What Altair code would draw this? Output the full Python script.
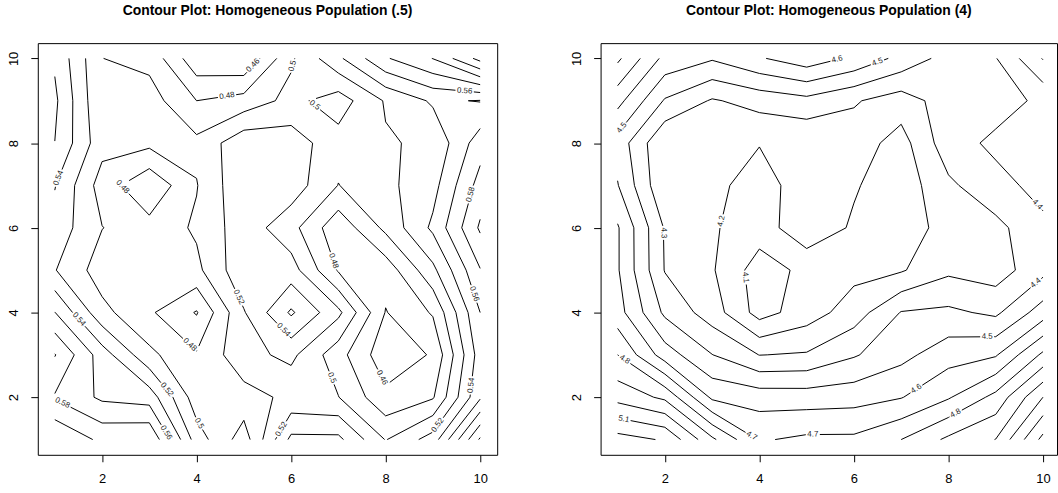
import math
import pandas as pd
import altair as alt

GRID_X = [1, 2, 3, 4, 5, 6, 7, 8, 9, 10]
GRID_Y = [1, 2, 3, 4, 5, 6, 7, 8, 9, 10]

# Population (.5): one list per row, from y = 10 (top) down to y = 1
HALF_ROWS = [
    [0.557, 0.5002, 0.494, 0.446, 0.441, 0.497, 0.536, 0.578, 0.6005, 0.647],
    [0.564, 0.501, 0.509, 0.480, 0.488, 0.506, 0.490, 0.522, 0.543, 0.539],
    [0.5598, 0.507, 0.505, 0.505, 0.534, 0.530, 0.508, 0.518, 0.524, 0.571],
    [0.541, 0.491, 0.4635, 0.499, 0.537, 0.531, 0.4995, 0.515, 0.533, 0.588],
    [0.532, 0.5005, 0.487, 0.503, 0.5315, 0.507, 0.466, 0.505, 0.544, 0.603],
    [0.521, 0.490, 0.488, 0.495, 0.535, 0.529, 0.478, 0.468, 0.515, 0.579],
    [0.5605, 0.506, 0.483, 0.4585, 0.5185, 0.563, 0.525, 0.459, 0.482, 0.560],
    [0.601, 0.550, 0.505, 0.482, 0.5136, 0.525, 0.4877, 0.447, 0.462, 0.550],
    [0.578, 0.5563, 0.551, 0.4888, 0.492, 0.505, 0.5005, 0.465, 0.478, 0.557],
    [0.6195, 0.5952, 0.599, 0.510, 0.470, 0.545, 0.545, 0.499, 0.529, 0.623],
]

# Population (4): one list per row, from y = 10 (top) down to y = 1
FOUR_ROWS = [
    [4.82, 4.57, 4.51, 4.59, 4.66, 4.58, 4.47, 4.36, 4.395, 4.606],
    [4.634, 4.39, 4.29, 4.337, 4.37, 4.31, 4.25, 4.35, 4.36, 4.42],
    [4.46, 4.205, 4.24, 4.205, 4.21, 4.25, 4.16, 4.36, 4.42, 4.48],
    [4.505, 4.21, 4.23, 4.15, 4.26, 4.21, 4.14, 4.28, 4.37, 4.43],
    [4.61, 4.29, 4.21, 4.15, 4.27, 4.186, 4.13, 4.25, 4.27, 4.38],
    [4.61, 4.295, 4.21, 4.05, 4.127, 4.17, 4.19, 4.28, 4.25, 4.37],
    [4.64, 4.38, 4.25, 4.06, 4.15, 4.25, 4.405, 4.42, 4.38, 4.55],
    [4.80, 4.55, 4.402, 4.298, 4.31, 4.39, 4.47, 4.558, 4.59, 4.82],
    [4.964, 4.88, 4.58, 4.554, 4.55, 4.56, 4.595, 4.69, 4.83, 5.10],
    [5.24, 5.19, 4.92, 4.69, 4.72, 4.72, 4.80, 4.92, 5.002, 5.33],
]

HALF_LEVELS = [0.44, 0.46, 0.48, 0.50, 0.52, 0.54, 0.56, 0.58, 0.60, 0.62, 0.64]
FOUR_LEVELS = [4.0, 4.1, 4.2, 4.3, 4.4, 4.5, 4.6, 4.7, 4.8, 4.9, 5.0, 5.1, 5.2, 5.3]

# Contour labels: text and the spot near which it sits on its line
HALF_LABELS = [
    ("0.46", 5.17, 9.86), ("0.48", 4.64, 9.14), ("0.5", 6.11, 9.8),
    ("0.5", 6.49, 8.88), ("0.56", 9.67, 9.21), ("0.54", 1.02, 7.2),
    ("0.48", 2.45, 6.98), ("0.58", 9.75, 6.8), ("0.48", 6.87, 5.21),
    ("0.56", 9.9, 4.45), ("0.52", 4.89, 4.36), ("0.54", 1.52, 3.85),
    ("0.48", 3.84, 3.22), ("0.54", 5.82, 3.57), ("0.46", 7.9, 2.45),
    ("0.5", 6.91, 2.48), ("0.52", 3.33, 2.14), ("0.54", 9.96, 2.26),
    ("0.58", 1.16, 1.86), ("0.56", 3.29, 1.12), ("0.5", 3.96, 1.32),
    ("0.52", 5.8, 1.24), ("0.52", 9.19, 1.27),
]
FOUR_LABELS = [
    ("4.6", 5.66, 9.91), ("4.5", 6.5, 9.9), ("4.5", 1.11, 8.34),
    ("4.4", 9.87, 6.54), ("4.3", 1.95, 5.88), ("4.2", 3.07, 6.19),
    ("4.1", 3.66, 4.82), ("4.4", 9.87, 4.67), ("4.5", 8.82, 3.45),
    ("4.8", 1.13, 2.86), ("4.6", 7.37, 2.11), ("4.8", 8.15, 1.62),
    ("5.1", 1.13, 1.48), ("4.7", 3.87, 1.15), ("4.7", 5.13, 1.2),
]

FONT = "Liberation Sans"
PANEL_H = 414
LEFT_W = 462
RIGHT_W = 459
Y_DOMAIN = [0.64, 10.36]
PX_PER_X = LEFT_W / (10.36 - 0.64)
PX_PER_Y = PANEL_H / (Y_DOMAIN[1] - Y_DOMAIN[0])
LABEL_SIZE = 8
CHAR_EM = {".": 0.278}


def crossing(p, q, a, b, level):
    t = (level - a) / (b - a)
    return (p[0] + t * (q[0] - p[0]), p[1] + t * (q[1] - p[1]))


def march(z, level):
    """Marching squares over the grid; returns straight pieces of the level line."""
    segs = []
    for j in range(len(GRID_Y) - 1):
        for i in range(len(GRID_X) - 1):
            c = [(GRID_X[i], GRID_Y[j], z[j][i]),
                 (GRID_X[i + 1], GRID_Y[j], z[j][i + 1]),
                 (GRID_X[i + 1], GRID_Y[j + 1], z[j + 1][i + 1]),
                 (GRID_X[i], GRID_Y[j + 1], z[j + 1][i])]
            hi = [v >= level for (_, _, v) in c]
            pts = {}
            for e in range(4):
                a, b = c[e], c[(e + 1) % 4]
                if hi[e] != hi[(e + 1) % 4]:
                    pts[e] = crossing(a[:2], b[:2], a[2], b[2], level)
            if len(pts) == 2:
                e1, e2 = list(pts)
                segs.append((pts[e1], pts[e2]))
            elif len(pts) == 4:
                centre = sum(v for (_, _, v) in c) / 4
                if (centre >= level) == hi[0]:
                    segs.append((pts[0], pts[1]))
                    segs.append((pts[2], pts[3]))
                else:
                    segs.append((pts[3], pts[0]))
                    segs.append((pts[1], pts[2]))
    return segs


def nearest(segs, x, y):
    best = None
    for s in segs:
        (x1, y1), (x2, y2) = s
        dx, dy = (x2 - x1) * PX_PER_X, (y2 - y1) * PX_PER_Y
        ax, ay = (x - x1) * PX_PER_X, (y - y1) * PX_PER_Y
        L = dx * dx + dy * dy
        t = 0.0 if L == 0 else max(0.0, min(1.0, (ax * dx + ay * dy) / L))
        d = (ax - t * dx) ** 2 + (ay - t * dy) ** 2
        if best is None or d < best[0]:
            best = (d, x1 + t * (x2 - x1), y1 + t * (y2 - y1), dx, dy)
    return best


def cut(seg, cx, cy, r):
    (x1, y1), (x2, y2) = seg
    ax, ay = (x1 - cx) * PX_PER_X, (y1 - cy) * PX_PER_Y
    dx, dy = (x2 - x1) * PX_PER_X, (y2 - y1) * PX_PER_Y
    A = dx * dx + dy * dy
    B = 2 * (ax * dx + ay * dy)
    C = ax * ax + ay * ay - r * r
    disc = B * B - 4 * A * C
    if A == 0 or disc <= 0:
        return [seg]
    s = math.sqrt(disc)
    t1, t2 = (-B - s) / (2 * A), (-B + s) / (2 * A)

    def at(t):
        return (x1 + t * (x2 - x1), y1 + t * (y2 - y1))

    out = []
    if t1 > 0:
        out.append((seg[0], at(min(t1, 1.0))))
    if t2 < 1:
        out.append((at(max(t2, 0.0)), seg[1]))
    return out


def text_width(text):
    return sum(CHAR_EM.get(ch, 0.556) for ch in text) * LABEL_SIZE


def build(rows, levels, labels):
    z = rows[::-1]
    by_level = {lv: march(z, lv) for lv in levels}
    marks = []
    for text, lx, ly in labels:
        lv = min(levels, key=lambda v: abs(v - float(text)))
        segs = by_level[lv]
        if not segs:
            continue
        _, px, py, dx, dy = nearest(segs, lx, ly)
        ang = math.degrees(math.atan2(-dy, dx))
        if ang > 90:
            ang -= 180
        if ang <= -90:
            ang += 180
        marks.append({"x": px, "y": py, "text": text, "angle": ang % 360})
        r = text_width(text) / 2 + 1.5
        pieces = []
        for s in segs:
            pieces.extend(cut(s, px, py, r))
        by_level[lv] = pieces
    lines = []
    for lv, segs in by_level.items():
        for (x1, y1), (x2, y2) in segs:
            lines.append({"x": x1, "y": y1, "x2": x2, "y2": y2, "level": lv})
    return pd.DataFrame(lines), pd.DataFrame(marks)


def panel(rows, levels, labels, title, width, xmax):
    seg_df, lab_df = build(rows, levels, labels)
    xs = alt.Scale(domain=[0.64, xmax], nice=False, zero=False)
    ys = alt.Scale(domain=Y_DOMAIN, nice=False, zero=False)
    x_axis = alt.Axis(values=[2, 4, 6, 8, 10], format="d", title=None,
                      labelPadding=11, labelBaseline="top")
    y_axis = alt.Axis(values=[2, 4, 6, 8, 10], format="d", title=None,
                      labelAngle=270, labelAlign="center",
                      labelBaseline="alphabetic", labelPadding=13)
    contour = alt.Chart(seg_df).mark_rule(color="black", strokeWidth=1).encode(
        x=alt.X("x:Q", scale=xs, axis=x_axis),
        y=alt.Y("y:Q", scale=ys, axis=y_axis),
        x2="x2:Q",
        y2="y2:Q",
    )
    tags = alt.Chart(lab_df).mark_text(
        font=FONT, fontSize=LABEL_SIZE, color="#222222",
        align="center", baseline="middle",
    ).encode(
        x=alt.X("x:Q", scale=xs, axis=x_axis),
        y=alt.Y("y:Q", scale=ys, axis=y_axis),
        text="text:N",
        angle=alt.Angle("angle:Q", scale=None),
    )
    return alt.layer(contour, tags).properties(
        width=width,
        height=PANEL_H,
        title=alt.TitleParams(title, font=FONT, fontSize=14, fontWeight="bold",
                              anchor="middle", offset=25, color="black"),
    )


left = panel(HALF_ROWS, HALF_LEVELS, HALF_LABELS,
             "Contour Plot: Homogeneous Population (.5)", LEFT_W, 10.36)
right = panel(FOUR_ROWS, FOUR_LEVELS, FOUR_LABELS,
              "Contour Plot: Homogeneous Population (4)", RIGHT_W,
              0.64 + RIGHT_W / PX_PER_X)

chart = alt.hconcat(left, right, spacing=72).properties(
    padding={"left": 7, "top": 2, "right": 0, "bottom": 0},
    background="white",
).configure_view(
    stroke="black", strokeWidth=1
).configure_axis(
    domain=False, grid=False, ticks=True, tickSize=7, tickColor="black",
    labelColor="black", labelFont=FONT, labelFontSize=13,
)

chart.save("out.html", embed_options={"renderer": "svg", "actions": False})
